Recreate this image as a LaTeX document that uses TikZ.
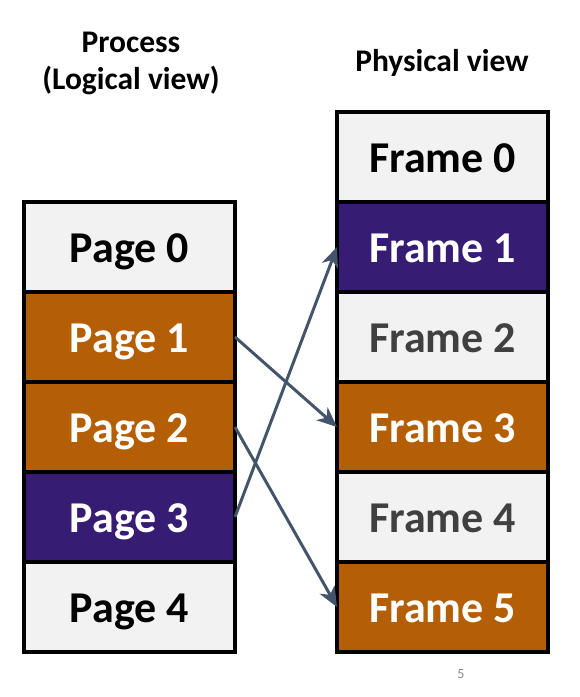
\documentclass[tikz,border=0pt]{standalone}
\usepackage{fontspec}
\setmainfont{Carlito}
\usetikzlibrary{arrows.meta, positioning}
\definecolor{CellGray}{RGB}{242, 242, 242}
\definecolor{PageOrange}{RGB}{180, 95, 6}
\definecolor{PagePurple}{RGB}{55, 28, 116}
\definecolor{MapSlate}{RGB}{68, 84, 106}
\definecolor{TextGray}{RGB}{64, 64, 64}
\definecolor{NumGray}{RGB}{137, 137, 137}

\begin{document}
\begin{tikzpicture}[x=1pt, y=-1pt,
    cell/.style={draw=black, line width=4pt, minimum width=211pt, minimum height=90pt,
                 inner sep=0pt, outer sep=0pt, text height=30pt, text depth=0pt,
                 font=\fontsize{44}{50}\selectfont\bfseries},
    free/.style={cell, fill=CellGray, text=black},
    orange/.style={cell, fill=PageOrange, text=white},
    purple/.style={cell, fill=PagePurple, text=white},
    title/.style={font=\fontsize{31.5}{37}\selectfont\bfseries, align=center},
    map/.style={draw=MapSlate, line width=3pt, -{Stealth[length=20pt, width=17pt, inset=6pt]}}]
    \useasboundingbox (0,0) rectangle (580,697);
    % logical view of the process
    \node[free] (p0) at (129.5,247) {Page 0};
    \node[orange, below=0pt of p0] (p1) {Page 1};
    \node[orange, below=0pt of p1] (p2) {Page 2};
    \node[purple, below=0pt of p2] (p3) {Page 3};
    \node[free, below=0pt of p3] (p4) {Page 4};
    % physical memory
    \node[free] (f0) at (442.5,157) {Frame 0};
    \node[purple, below=0pt of f0] (f1) {Frame 1};
    \node[free, text=TextGray, below=0pt of f1] (f2) {Frame 2};
    \node[orange, below=0pt of f2] (f3) {Frame 3};
    \node[free, text=TextGray, below=0pt of f3] (f4) {Frame 4};
    \node[orange, below=0pt of f4] (f5) {Frame 5};
    % headings
    \node[title] (lhead) at (131,63) {Process\\(Logical view)};
    \node[title] (rhead) at (442,63) {Physical view};
    % page table mapping
    \draw[map] (p1.east) -- (f3.west);
    \draw[map] (p2.east) -- (f5.west);
    \draw[map] (p3.east) -- (f1.west);
    \node[NumGray, font=\fontsize{14}{16}\selectfont] (slide) at (461,674) {5};
\end{tikzpicture}
\end{document}
